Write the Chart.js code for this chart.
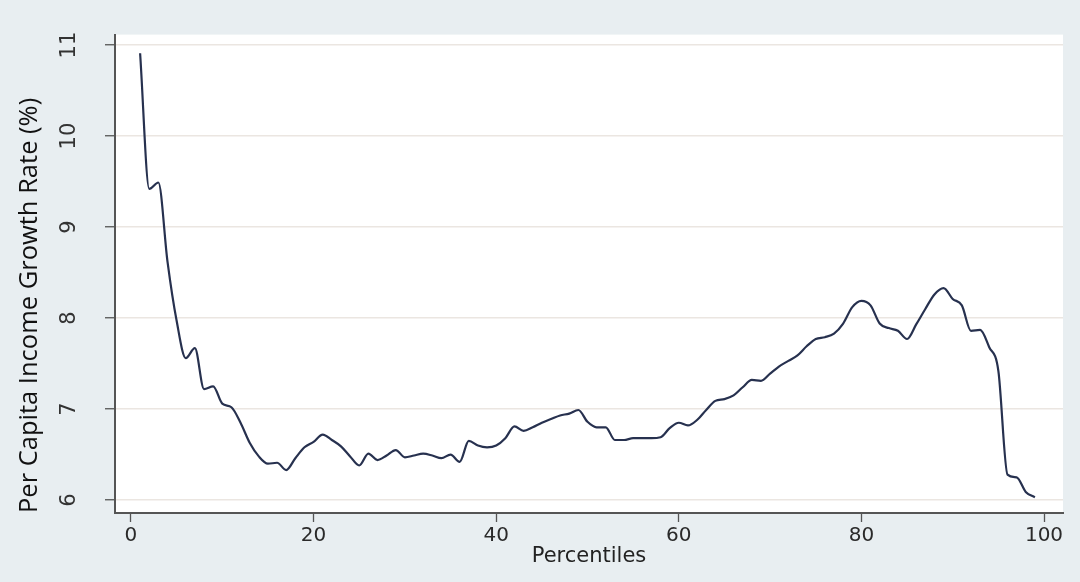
<!DOCTYPE html>
<html>
<head>
<meta charset="utf-8">
<title>Per Capita Income Growth Rate by Percentile</title>
<script src="https://cdn.jsdelivr.net/npm/chart.js@4.4.1/dist/chart.umd.min.js"></script>
<style>
  html, body { margin: 0; padding: 0; background: #e8eef1; }
  #wrap { width: 1080px; height: 582px; }
</style>
</head>
<body>
<div id="wrap"><canvas id="growthChart"></canvas></div>
<script>
const percentiles = [
  1, 2, 3, 4, 5, 6, 7, 8, 9, 10,
  11, 12, 13, 14, 15, 16, 17, 18, 19, 20,
  21, 22, 23, 24, 25, 26, 27, 28, 29, 30,
  31, 32, 33, 34, 35, 36, 37, 38, 39, 40,
  41, 42, 43, 44, 45, 46, 47, 48, 49, 50,
  51, 52, 53, 54, 55, 56, 57, 58, 59, 60,
  61, 62, 63, 64, 65, 66, 67, 68, 69, 70,
  71, 72, 73, 74, 75, 76, 77, 78, 79, 80,
  81, 82, 83, 84, 85, 86, 87, 88, 89, 90,
  91, 92, 93, 94, 95, 96, 97, 98, 99
];
const growthRate = [
  10.91, 9.42, 9.49, 8.62, 7.97, 7.56, 7.67, 7.22, 7.25, 7.06,
  7.02, 6.85, 6.63, 6.48, 6.40, 6.41, 6.33, 6.46, 6.58, 6.64,
  6.72, 6.66, 6.59, 6.48, 6.38, 6.51, 6.44, 6.49, 6.55, 6.47,
  6.49, 6.51, 6.49, 6.46, 6.50, 6.42, 6.65, 6.60, 6.58, 6.60,
  6.68, 6.81, 6.76, 6.80, 6.85, 6.89, 6.93, 6.95, 6.99, 6.86,
  6.80, 6.80, 6.66, 6.66, 6.68, 6.68, 6.68, 6.69, 6.79, 6.85,
  6.82, 6.88, 6.99, 7.09, 7.11, 7.15, 7.24, 7.32, 7.31, 7.39,
  7.47, 7.53, 7.59, 7.69, 7.77, 7.79, 7.83, 7.94, 8.12, 8.19,
  8.14, 7.94, 7.89, 7.86, 7.77, 7.93, 8.10, 8.26, 8.33, 8.21,
  8.14, 7.86, 7.87, 7.68, 7.42, 6.28, 6.25, 6.09, 6.03
];
const xTicks = [0, 20, 40, 60, 80, 100];
const yTicks = [6, 7, 8, 9, 10, 11];

// white plot region, the rest of the canvas keeps the page colour
const plotBackground = {
  id: 'plotBackground',
  beforeDraw(chart) {
    const { ctx, chartArea: a } = chart;
    ctx.save();
    ctx.fillStyle = '#ffffff';
    ctx.fillRect(a.left, a.top, a.right - a.left, a.bottom - a.top);
    ctx.restore();
  }
};

const points = percentiles.map((p, i) => ({ x: p, y: growthRate[i] }));

new Chart(document.getElementById('growthChart'), {
  type: 'line',
  data: {
    datasets: [{
      label: 'Growth rate',
      data: points,
      borderColor: '#27314f',
      borderWidth: 2.2,
      pointRadius: 0,
      fill: false,
      cubicInterpolationMode: 'monotone'
    }]
  },
  options: {
    responsive: true,
    maintainAspectRatio: false,
    animation: false,
    layout: { padding: { left: 0, right: 17, top: 33, bottom: 0 } },
    plugins: {
      legend: { display: false },
      tooltip: { enabled: false }
    },
    scales: {
      x: {
        type: 'linear',
        min: -1.75,
        max: 102.08,
        afterBuildTicks: (s) => { s.ticks = xTicks.map(v => ({ value: v })); },
        afterFit: (s) => { s.height = 69; },
        ticks: {
          font: { family: "'DejaVu Sans', sans-serif", size: 20 },
          color: '#2a2a2a',
          padding: 2,
          maxRotation: 0,
          autoSkip: false
        },
        grid: { drawOnChartArea: false, tickLength: 9, tickColor: '#555', tickWidth: 1.3 },
        border: { color: '#555', width: 2 },
        title: {
          display: true,
          text: 'Percentiles',
          font: { family: "'DejaVu Sans', sans-serif", size: 21, lineHeight: 1.2 },
          color: '#222',
          padding: { top: 0, bottom: 13 }
        }
      },
      y: {
        min: 5.858,
        max: 11.115,
        afterBuildTicks: (s) => { s.ticks = yTicks.map(v => ({ value: v })); },
        afterFit: (s) => { s.width = 115; },
        ticks: {
          font: { family: "'DejaVu Sans', sans-serif", size: 21 },
          color: '#333',
          minRotation: 90,
          maxRotation: 90,
          crossAlign: 'center',
          padding: 22
        },
        grid: { color: '#ebe6e1', lineWidth: 1.5, tickColor: '#555', tickLength: 10, tickWidth: 1.3 },
        border: { color: '#555', width: 2 },
        title: {
          display: true,
          text: 'Per Capita Income Growth Rate (%)',
          align: 'start',
          font: { family: "'Open Sans', sans-serif", size: 25.5, lineHeight: 1.2 },
          color: '#111',
          padding: { top: 14, bottom: 0 }
        }
      }
    }
  },
  plugins: [plotBackground]
});
</script>
</body>
</html>
